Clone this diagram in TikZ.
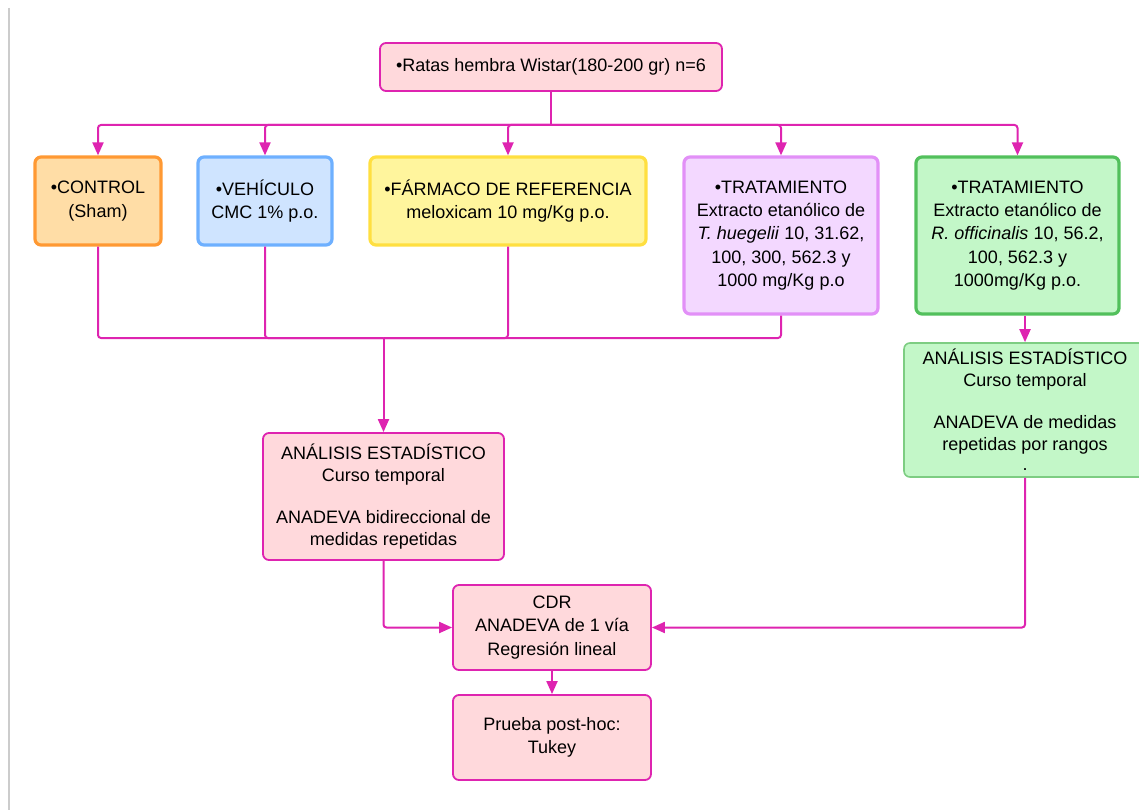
\documentclass[tikz,border=0pt]{standalone}
\usepackage{fontspec}
\setmainfont{Liberation Sans}
\usepackage{tikz}
\usetikzlibrary{arrows.meta,positioning}

\definecolor{Magenta}{RGB}{222,36,176}
\definecolor{PinkFill}{RGB}{255,217,220}
\definecolor{OrangeLine}{RGB}{255,153,51}
\definecolor{OrangeFill}{RGB}{255,221,166}
\definecolor{BlueLine}{RGB}{110,176,255}
\definecolor{BlueFill}{RGB}{207,228,255}
\definecolor{YellowLine}{RGB}{255,223,64}
\definecolor{YellowFill}{RGB}{255,245,157}
\definecolor{VioletLine}{RGB}{226,144,247}
\definecolor{VioletFill}{RGB}{243,216,255}
\definecolor{GreenLine}{RGB}{82,192,92}
\definecolor{GreenSoft}{RGB}{125,205,130}
\definecolor{GreenFill}{RGB}{195,247,200}

\begin{document}
\begin{tikzpicture}[x=1pt,y=-1pt]
				\tikzstyle{Box}		= [rectangle, rounded corners=6pt, align=center, inner sep=0pt, font=\fontsize{18}{23.3}\selectfont]
				\tikzstyle{Tight}	= [font=\fontsize{18}{22}\selectfont]
				\tikzstyle{Pink}	= [Box, draw=Magenta, fill=PinkFill, line width=1.8pt]
				\tikzstyle{Orange}	= [Box, draw=OrangeLine, fill=OrangeFill, line width=3.2pt]
				\tikzstyle{Blue}	= [Box, draw=BlueLine, fill=BlueFill, line width=3.2pt]
				\tikzstyle{Yellow}	= [Box, draw=YellowLine, fill=YellowFill, line width=3.2pt]
				\tikzstyle{Violet}	= [Box, draw=VioletLine, fill=VioletFill, line width=3.2pt]
				\tikzstyle{Green}	= [Box, draw=GreenLine, fill=GreenFill, line width=3.2pt]
				\tikzstyle{GreenLt}	= [Box, draw=GreenSoft, fill=GreenFill, line width=1.6pt]
				\tikzstyle{Link}	= [draw=Magenta, line width=2pt, rounded corners=3pt]
				\tikzstyle{Arrow}	= [Link, -{Triangle[length=13pt,width=11pt]}]

				\useasboundingbox (0,0) rectangle (1139,810);
				\draw [gray!40, line width=1.5pt] (9,8) -- (9,810);

				\node (ratas) at (551,67) [Pink, minimum width=342, minimum height=48] {•Ratas hembra Wistar(180-200 gr) n=6};
				\node (control) at (98,201) [Orange, minimum width=126, minimum height=88] {•CONTROL\\(Sham)};
				\node (vehiculo) at (265,201) [Blue, minimum width=134, minimum height=88] {•VEHÍCULO\\CMC 1\% p.o.};
				\node (farmaco) at (508,201) [Yellow, minimum width=276, minimum height=88] {•FÁRMACO DE REFERENCIA\\meloxicam 10 mg/Kg p.o.};
				\node (tratT) at (781,235.5) [Violet, minimum width=194, minimum height=157] {•TRATAMIENTO\\Extracto etanólico de\\\textit{T. huegelii} 10, 31.62,\\100, 300, 562.3 y\\1000 mg/Kg p.o};
				\node (tratR) at (1017.5,235.5) [Green, minimum width=203, minimum height=157] {•TRATAMIENTO\\Extracto etanólico de\\\textit{R. officinalis} 10, 56.2,\\100, 562.3 y\\1000mg/Kg p.o.};
				\node (anaT) at (383.5,496.5) [Pink, Tight, minimum width=241, minimum height=127] {ANÁLISIS ESTADÍSTICO\\Curso temporal\\[20pt]ANADEVA bidireccional de\\medidas repetidas};
				\node (anaR) at (1025,410) [GreenLt, Tight, minimum width=242, minimum height=134] {ANÁLISIS ESTADÍSTICO\\Curso temporal\\[20pt]ANADEVA de medidas\\repetidas por rangos\\[-2pt].};
				\node (cdr) at (552,627.5) [Pink, minimum width=198, minimum height=85] {CDR\\ANADEVA de 1 vía\\Regresión lineal};
				\node (tukey) at (552,737.5) [Pink, minimum width=198, minimum height=85] {Prueba post-hoc:\\Tukey};

				\coordinate (busT) at (551,125);
				\coordinate (busB) at (383.5,338);

				\draw [Link] (ratas) -- (busT);
				\draw [Arrow] (busT) -| (control);
				\draw [Arrow] (busT) -| (vehiculo);
				\draw [Arrow] (busT) -| (farmaco);
				\draw [Arrow] (busT) -| (tratT);
				\draw [Arrow] (busT) -| (tratR);

				\draw [Link] (control) |- (busB);
				\draw [Link] (vehiculo) |- (busB);
				\draw [Link] (farmaco) |- (busB);
				\draw [Link] (tratT) |- (busB);
				\draw [Arrow] (busB) -- (anaT);

				\draw [Arrow] (anaR.north |- tratR.south) -- (anaR.north);
				\draw [Arrow] (anaT) |- (cdr);
				\draw [Arrow] (anaR) |- (cdr);
				\draw [Arrow] (cdr) -- (tukey);
			\end{tikzpicture}
\end{document}
